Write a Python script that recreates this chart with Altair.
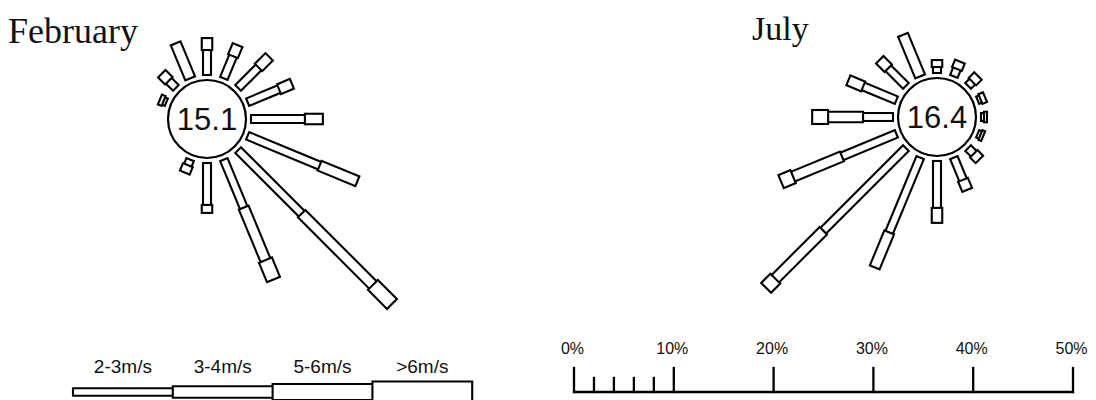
import math
import altair as alt
import pandas as pd

# ---------------- data ----------------
directions = ["N", "NNE", "NE", "ENE", "E", "ESE", "SE", "SSE",
              "S", "SSW", "SW", "WSW", "W", "WNW", "NW", "NNW"]
speed_classes = ["2-3m/s", "3-4m/s", "5-6m/s", ">6m/s"]

# frequency (%) of each speed class per direction
feb_2_3 = [2.5, 2.4, 2.9, 3.4, 5.4, 7.8, 9.0, 5.2, 4.2, 0.6, 0, 0, 0, 0.3, 1.0, 0]
feb_3_4 = [1.2, 1.2, 1.5, 1.4, 1.8, 4.1, 10.1, 5.7, 0.8, 0.8, 0, 0, 0, 0.4, 1.0, 3.8]
feb_5_6 = [0, 0, 0, 0, 0, 0, 2.7, 2.1, 0, 0, 0, 0, 0, 0, 0, 0]
feb_gt6 = [0, 0, 0, 0, 0, 0, 0, 0, 0, 0, 0, 0, 0, 0, 0, 0]
feb_calm = "15.1"

jul_2_3 = [0.6, 0.8, 0.6, 0.3, 0.3, 0.3, 0.8, 2.4, 4.7, 8.1, 11.7, 5.9, 3.0, 3.6, 2.5, 0]
jul_3_4 = [0.7, 0.8, 0.8, 0.5, 0.3, 0.3, 0.8, 1.1, 1.5, 3.8, 6.8, 5.3, 3.5, 1.6, 1.2, 4.5]
jul_5_6 = [0, 0, 0, 0, 0, 0, 0, 0, 0, 0, 1.3, 1.3, 1.6, 0, 0, 0]
jul_gt6 = [0, 0, 0, 0, 0, 0, 0, 0, 0, 0, 0, 0, 0, 0, 0, 0]
jul_calm = "16.4"

month_names = ["February", "July"]
legend_lengths = [10, 10, 10, 10]          # % length of each legend segment
scale_major = [0, 10, 20, 30, 40, 50]
scale_minor = [2, 4, 6, 8]

# ---------------- layout / style ----------------
W, H = 1080, 392
K = 9.98                      # pixels per 1 %
def X(px): return (px - 574) / K
def Y(py): return (392 - py) / K

R0 = 44 / K                   # calm circle radius in % units
S = 2.1                       # outline thickness (px)
rose_width = {"2-3m/s": 8, "3-4m/s": 10.5, "5-6m/s": 14, ">6m/s": 17}
legend_width = {"2-3m/s": 7.5, "3-4m/s": 11.5, "5-6m/s": 16, ">6m/s": 21}

roses = [
    dict(name=month_names[0], cx=X(207), cy=Y(119), calm=feb_calm,
         tx=X(8), ty=Y(43), fs=36, data=[feb_2_3, feb_3_4, feb_5_6, feb_gt6]),
    dict(name=month_names[1], cx=X(937), cy=Y(117), calm=jul_calm,
         tx=X(752), ty=Y(40), fs=34, data=[jul_2_3, jul_3_4, jul_5_6, jul_gt6]),
]

outer_rows, inner_rows = [], []

def add_bar(x0, y0, ux, uy, r0, r1, w):
    e = S / 2 / K
    outer_rows.append(dict(x=x0 + ux * (r0 - e), y=y0 + uy * (r0 - e),
                           x2=x0 + ux * (r1 + e), y2=y0 + uy * (r1 + e), w=w + S))
    inner_rows.append(dict(x=x0 + ux * (r0 + e), y=y0 + uy * (r0 + e),
                           x2=x0 + ux * (r1 - e), y2=y0 + uy * (r1 - e), w=w - S))

for rose in roses:
    for i, d in enumerate(directions):
        th = math.radians(22.5 * i)
        ux, uy = math.sin(th), math.cos(th)
        r = R0
        for c, series in zip(speed_classes, rose["data"]):
            L = series[i]
            if L > 0:
                add_bar(rose["cx"], rose["cy"], ux, uy, r, r + L, rose_width[c])
                r += L

# legend bar
leg_x0 = X(73)
r = 0
legend_label_rows = []
for c, L in zip(speed_classes, legend_lengths):
    add_bar(leg_x0, 0, 1, 0, r, r + L, legend_width[c])
    legend_label_rows.append(dict(x=leg_x0 + r + L / 2, y=Y(367), label=c))
    r += L

outer_df = pd.DataFrame(outer_rows)
inner_df = pd.DataFrame(inner_rows)
circle_df = pd.DataFrame([dict(x=r["cx"], y=r["cy"], label=r["calm"]) for r in roses])
title_df = pd.DataFrame([dict(x=r["tx"], y=r["ty"], label=r["name"], fs=r["fs"]) for r in roses])
legend_label_df = pd.DataFrame(legend_label_rows)

scale_rule_rows = [dict(x=0, y=0, x2=max(scale_major), y2=0)]
scale_rule_rows += [dict(x=t, y=0, x2=t, y2=Y(368)) for t in scale_major]
scale_rule_rows += [dict(x=t, y=0, x2=t, y2=Y(378)) for t in scale_minor]
scale_rule_df = pd.DataFrame(scale_rule_rows)
scale_label_df = pd.DataFrame([dict(x=t, y=Y(349), label=f"{t}%") for t in scale_major])

# ---------------- chart ----------------
xs = alt.Scale(domain=[X(8), X(8 + W)], nice=False, zero=False)
ys = alt.Scale(domain=[Y(8 + H), Y(8)], nice=False, zero=False)
xe = alt.X("x:Q", scale=xs, axis=None)
ye = alt.Y("y:Q", scale=ys, axis=None)

outer = alt.Chart(outer_df).mark_rule(color="black", strokeCap="butt").encode(
    x=xe, y=ye, x2="x2:Q", y2="y2:Q", size=alt.Size("w:Q", scale=None))
inner = alt.Chart(inner_df).mark_rule(color="white", strokeCap="butt").encode(
    x=xe, y=ye, x2="x2:Q", y2="y2:Q", size=alt.Size("w:Q", scale=None))

circles = alt.Chart(circle_df).mark_point(
    shape="circle", filled=True, fill="white", stroke="black", strokeWidth=2.2,
    size=math.pi * 44 ** 2, opacity=1, fillOpacity=1, strokeOpacity=1
).encode(x=xe, y=ye)

calm_text = alt.Chart(circle_df).mark_text(
    font="Liberation Sans", fontSize=31, align="center", baseline="middle", dy=2, color="#111"
).encode(x=xe, y=ye, text="label:N")

titles = alt.Chart(title_df).mark_text(
    font="Liberation Serif", align="left", baseline="alphabetic", color="#111"
).encode(x=xe, y=ye, text="label:N", size=alt.Size("fs:Q", scale=None))

legend_labels = alt.Chart(legend_label_df).mark_text(
    font="Liberation Sans", fontSize=19, align="center", baseline="middle", color="#111"
).encode(x=xe, y=ye, text="label:N")

scale_rules = alt.Chart(scale_rule_df).mark_rule(color="black", strokeWidth=2.3, strokeCap="square").encode(
    x=xe, y=ye, x2="x2:Q", y2="y2:Q")
scale_labels = alt.Chart(scale_label_df).mark_text(
    font="Liberation Sans", fontSize=16, align="center", baseline="middle", dx=-1.5, color="#111"
).encode(x=xe, y=ye, text="label:N")

chart = alt.layer(
    outer, inner, circles, calm_text, titles, legend_labels, scale_rules, scale_labels
).properties(
    width=W, height=H, padding=0, autosize=alt.AutoSizeParams(type="none")
).configure_view(stroke=None)

chart.save("out.html", embed_options={"renderer": "svg", "actions": False})
